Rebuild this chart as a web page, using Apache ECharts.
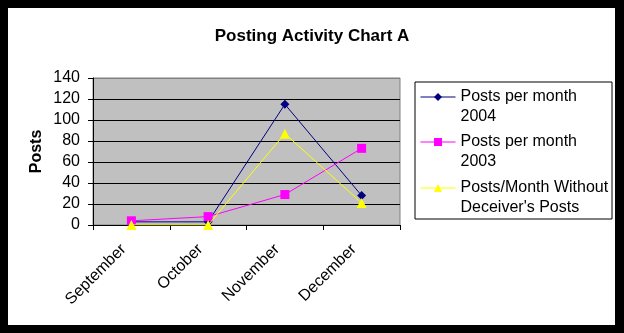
<!DOCTYPE html>
<html>
<head>
<meta charset="utf-8">
<script src="https://cdn.jsdelivr.net/npm/echarts@6/dist/echarts.min.js"></script>
<style>
html,body{margin:0;padding:0;background:#000;}
#wrap{position:relative;width:624px;height:333px;background:#000;}
#white{position:absolute;left:8px;top:8px;width:607px;height:317px;background:#fff;}
#chart{position:absolute;left:0;top:0;width:624px;height:333px;}
</style>
</head>
<body>
<div id="wrap"><div id="white"></div><div id="chart"></div></div>
<script>
var categories = ['September', 'October', 'November', 'December'];
var posts2004 = [3, 3, 115, 28];
var posts2003 = [4, 8, 29, 73];
var postsWithout = [0, 0, 87, 21];
var seriesNames = ['Posts per month 2004', 'Posts per month 2003', "Posts/Month Without Deceiver's Posts"];
var legendLines = {
  'Posts per month 2004': ['Posts per month', '2004'],
  'Posts per month 2003': ['Posts per month', '2003'],
  "Posts/Month Without Deceiver's Posts": ['Posts/Month Without', "Deceiver's Posts"]
};
var yTicks = [0, 20, 40, 60, 80, 100, 120, 140];

var FONT = "'Liberation Sans', Arial, sans-serif";
var chart = echarts.init(document.getElementById('chart'));

function mkLegend(name, top) {
  return {
    data: [name],
    left: 420,
    top: top,
    orient: 'vertical',
    padding: 0,
    itemWidth: 35,
    itemHeight: 10,
    selectedMode: false,
    lineStyle: { width: 1 },
    formatter: function (n) { return '\n' + legendLines[n].join('\n'); },
    textStyle: { fontFamily: FONT, fontSize: 16, color: '#000', lineHeight: 20 }
  };
}

chart.setOption({
  backgroundColor: 'transparent',
  animation: false,
  title: {
    text: 'Posting Activity Chart A',
    left: 'center',
    top: 23,
    textStyle: { fontFamily: FONT, fontSize: 17, fontWeight: 'bold', color: '#000' }
  },
  graphic: [{
    type: 'rect',
    shape: { x: 415, y: 82, width: 197, height: 137 },
    style: { fill: '#fff', stroke: '#000', lineWidth: 1 },
    z: 1
  }],
  legend: [
    mkLegend(seriesNames[0], 67),
    mkLegend(seriesNames[1], 112),
    mkLegend(seriesNames[2], 158)
  ],
  grid: {
    left: 93, top: 78, right: 224, bottom: 108,
    show: true, backgroundColor: '#C0C0C0', borderColor: '#808080', borderWidth: 1
  },
  xAxis: {
    type: 'category',
    data: categories,
    boundaryGap: true,
    axisLine: { lineStyle: { color: '#000', width: 1 } },
    axisTick: { show: true, inside: false, length: 5, lineStyle: { color: '#000' } },
    axisLabel: {
      rotate: 45, fontFamily: FONT, fontSize: 16, color: '#000',
      margin: 14, padding: [0, 11, 0, 0], interval: 0
    },
    splitLine: { show: false }
  },
  yAxis: {
    type: 'value',
    min: 0, max: 140, interval: 20,
    name: 'Posts',
    nameLocation: 'middle',
    nameGap: 48,
    nameTextStyle: { fontFamily: FONT, fontSize: 16, fontWeight: 'bold', color: '#000' },
    axisLine: { show: true, lineStyle: { color: '#000', width: 1 } },
    axisTick: { show: true, inside: false, length: 5, lineStyle: { color: '#000' } },
    axisLabel: {
      fontFamily: FONT, fontSize: 16, color: '#000', margin: 13,
      formatter: function (v) { return yTicks.indexOf(v) >= 0 ? String(v) : ''; }
    },
    splitLine: { show: true, lineStyle: { color: ['#000', '#000', '#000', '#000', '#000', '#000', '#000', '#808080'], width: 1 } }
  },
  series: [
    {
      name: seriesNames[0], type: 'line', data: posts2004,
      symbol: 'diamond', symbolSize: 9, showSymbol: true,
      itemStyle: { color: '#000080' }, lineStyle: { color: '#000080', width: 1 }, z: 2
    },
    {
      name: seriesNames[1], type: 'line', data: posts2003,
      symbol: 'rect', symbolSize: 9,
      itemStyle: { color: '#FF00FF' }, lineStyle: { color: '#FF00FF', width: 1 }, z: 3
    },
    {
      name: seriesNames[2], type: 'line', data: postsWithout,
      symbol: 'triangle', symbolSize: 10,
      itemStyle: { color: '#FFFF00' }, lineStyle: { color: '#FFFF00', width: 1 }, z: 4
    }
  ]
});
</script>
</body>
</html>
